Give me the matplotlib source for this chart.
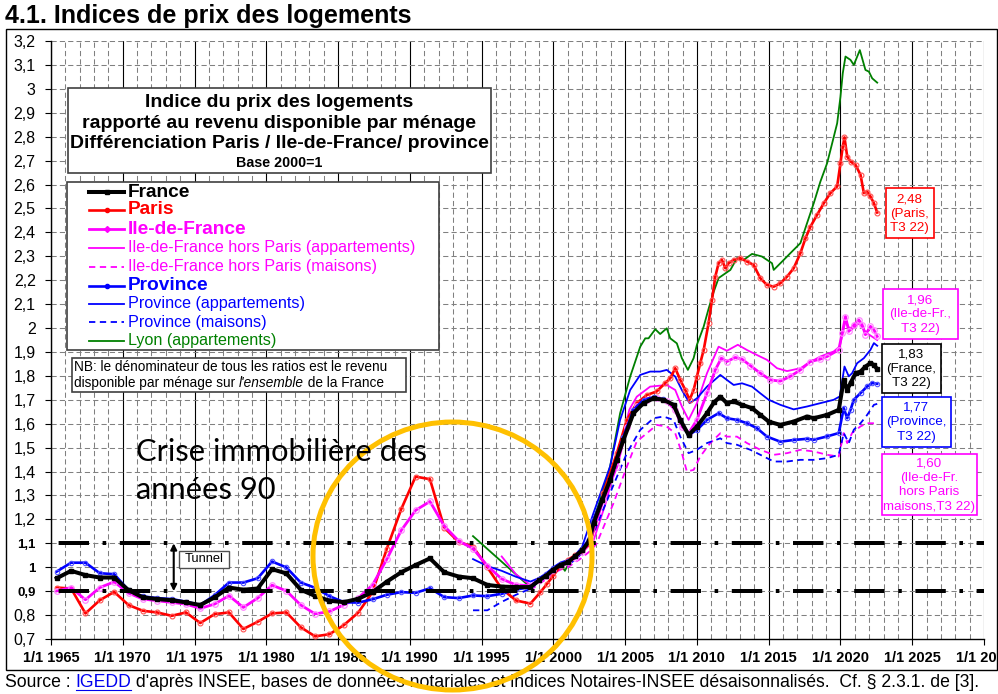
import matplotlib
matplotlib.use('Agg')
import matplotlib.pyplot as plt
from matplotlib.patches import Rectangle, Ellipse
from matplotlib.lines import Line2D

plt.rcParams['font.family'] = ['Liberation Sans', 'DejaVu Sans']

# ---------------- DATA ----------------
france_x = [1965.4, 1966.4, 1967.4, 1968.4, 1969.4, 1970.4, 1971.4, 1972.4, 1973.4, 1974.4,
            1975.4, 1976.4, 1977.4, 1978.4, 1979.4, 1980.4, 1981.4, 1982.4, 1983.4, 1984.4,
            1985.4, 1986.4, 1987.4, 1988.4, 1989.4, 1990.4, 1991.4, 1992.4, 1993.4, 1994.4,
            1995.4, 1996.4, 1997.4, 1998.4, 1999.0, 1999.5, 2000.0, 2000.5, 2001.0, 2001.5,
            2002.0, 2002.5, 2002.8, 2003.4, 2003.95, 2004.4, 2004.88, 2005.58, 2006.28, 2006.98,
            2007.67, 2008.37, 2008.84, 2009.42, 2010.0, 2010.7, 2011.2, 2011.63, 2012.09, 2012.56,
            2013.14, 2013.84, 2014.42, 2015.0, 2015.81, 2016.74, 2017.67, 2018.14, 2019.07, 2019.88,
            2020.23, 2020.47, 2020.7, 2021.05, 2021.4, 2021.74, 2022.09, 2022.33, 2022.56]
france_y = [0.954, 0.985, 0.967, 0.957, 0.957, 0.904, 0.874, 0.867, 0.862, 0.853,
            0.842, 0.874, 0.915, 0.906, 0.911, 0.992, 0.974, 0.906, 0.880, 0.860,
            0.854, 0.868, 0.896, 0.940, 0.979, 1.009, 1.037, 0.979, 0.961, 0.954,
            0.926, 0.919, 0.917, 0.917, 0.945, 0.965, 0.990, 1.010, 1.020, 1.045,
            1.070, 1.110, 1.184, 1.280, 1.365, 1.450, 1.532, 1.644, 1.686, 1.706,
            1.700, 1.679, 1.616, 1.553, 1.588, 1.644, 1.690, 1.713, 1.686, 1.693,
            1.679, 1.665, 1.637, 1.609, 1.595, 1.609, 1.630, 1.623, 1.637, 1.658,
            1.783, 1.742, 1.770, 1.811, 1.818, 1.839, 1.853, 1.846, 1.828]

paris_x = [1965.4, 1966.4, 1967.4, 1968.4, 1969.4, 1970.4, 1971.4, 1972.4, 1973.4, 1974.4,
           1975.4, 1976.4, 1977.4, 1978.4, 1979.4, 1980.4, 1981.4, 1982.4, 1983.4, 1984.4,
           1985.4, 1986.4, 1987.4, 1988.4, 1989.4, 1990.4, 1991.4, 1992.4, 1993.4, 1994.4,
           1995.4, 1996.4, 1997.4, 1998.4, 1999.1, 1999.55, 2000.0, 2000.5, 2001.0, 2001.5,
           2002.0, 2002.56, 2003.49, 2004.42, 2005.12, 2005.81, 2006.51, 2007.2, 2007.79, 2008.14,
           2008.49, 2008.84, 2009.19, 2009.49, 2009.77, 2010.0, 2010.23, 2010.47, 2010.81, 2011.05,
           2011.28, 2011.51, 2011.74, 2011.98, 2012.21, 2012.56, 2013.02, 2013.49, 2013.95, 2014.42,
           2014.88, 2015.35, 2015.81, 2016.28, 2016.74, 2017.21, 2017.56, 2017.91, 2018.37, 2018.84,
           2019.3, 2019.77, 2020.0, 2020.16, 2020.28, 2020.47, 2020.7, 2021.05, 2021.4, 2021.63,
           2021.86, 2022.09, 2022.33, 2022.56]
paris_y = [0.915, 0.911, 0.807, 0.862, 0.897, 0.842, 0.818, 0.811, 0.797, 0.811,
           0.767, 0.804, 0.811, 0.742, 0.772, 0.807, 0.811, 0.749, 0.711, 0.720,
           0.758, 0.810, 0.896, 1.078, 1.243, 1.379, 1.368, 1.165, 1.106, 1.086,
           1.000, 0.910, 0.861, 0.848, 0.896, 0.930, 0.965, 1.007, 1.030, 1.050,
           1.070, 1.100, 1.310, 1.477, 1.616, 1.686, 1.720, 1.735, 1.770, 1.790,
           1.832, 1.783, 1.741, 1.700, 1.741, 1.797, 1.853, 1.908, 2.020, 2.118,
           2.215, 2.271, 2.285, 2.250, 2.271, 2.285, 2.292, 2.278, 2.264, 2.208,
           2.180, 2.173, 2.187, 2.215, 2.250, 2.313, 2.375, 2.424, 2.473, 2.522,
           2.564, 2.592, 2.689, 2.758, 2.797, 2.717, 2.696, 2.682, 2.640, 2.564,
           2.570, 2.550, 2.522, 2.483]

idf_x = [1965.4, 1966.4, 1967.4, 1968.4, 1969.4, 1970.4, 1971.4, 1972.4, 1973.4, 1974.4,
         1975.4, 1976.4, 1977.4, 1978.4, 1979.4, 1980.4, 1981.4, 1982.4, 1983.4, 1984.4,
         1985.4, 1986.4, 1987.4, 1988.4, 1989.4, 1990.4, 1991.4, 1992.4, 1993.4, 1994.4,
         1995.4, 1996.4, 1997.4, 1998.4, 1999.0, 1999.5, 2000.0, 2000.5, 2001.0, 2001.5,
         2002.0, 2002.56, 2003.49, 2004.42, 2005.12, 2005.81, 2006.51, 2007.2, 2007.9, 2008.49,
         2008.95, 2009.42, 2010.0, 2010.7, 2011.28, 2011.7, 2012.09, 2012.67, 2013.14, 2013.72,
         2014.42, 2015.12, 2015.81, 2016.51, 2017.21, 2017.9, 2018.6, 2019.07, 2019.88, 2020.12,
         2020.35, 2020.58, 2020.93, 2021.28, 2021.51, 2021.74, 2022.09, 2022.33, 2022.56]
idf_y = [0.901, 0.915, 0.864, 0.915, 0.939, 0.892, 0.867, 0.860, 0.853, 0.846,
         0.828, 0.846, 0.881, 0.832, 0.871, 0.925, 0.901, 0.842, 0.805, 0.815,
         0.843, 0.871, 0.926, 1.034, 1.154, 1.238, 1.275, 1.172, 1.110, 1.078,
         1.006, 0.951, 0.926, 0.923, 0.945, 0.965, 0.990, 1.010, 1.020, 1.040,
         1.065, 1.115, 1.282, 1.421, 1.588, 1.672, 1.700, 1.706, 1.693, 1.658,
         1.588, 1.560, 1.616, 1.727, 1.825, 1.874, 1.860, 1.877, 1.870, 1.843,
         1.811, 1.783, 1.778, 1.798, 1.825, 1.860, 1.870, 1.881, 1.909, 1.979,
         2.048, 1.986, 2.013, 2.034, 2.013, 1.972, 2.007, 1.993, 1.965]

prov_x = [1965.4, 1966.4, 1967.4, 1968.4, 1969.4, 1970.4, 1971.4, 1972.4, 1973.4, 1974.4,
          1975.4, 1976.4, 1977.4, 1978.4, 1979.4, 1980.4, 1981.4, 1982.4, 1983.4, 1984.4,
          1985.4, 1986.4, 1987.4, 1988.4, 1989.4, 1990.4, 1991.4, 1992.4, 1993.4, 1994.4,
          1995.4, 1996.4, 1997.4, 1998.4, 1999.0, 1999.5, 2000.0, 2000.5, 2001.0, 2001.5,
          2002.0, 2002.5, 2002.79, 2003.95, 2004.88, 2005.58, 2006.28, 2006.98, 2007.67, 2008.37,
          2008.84, 2009.42, 2010.0, 2010.7, 2011.51, 2012.09, 2012.79, 2013.49, 2014.19, 2014.88,
          2015.81, 2016.74, 2017.67, 2018.14, 2019.07, 2019.88, 2020.23, 2020.47, 2020.7, 2020.93,
          2021.4, 2021.86, 2022.21, 2022.56]
prov_y = [0.982, 1.019, 1.019, 0.975, 0.971, 0.904, 0.878, 0.871, 0.867, 0.856,
          0.842, 0.883, 0.936, 0.936, 0.954, 1.024, 0.999, 0.936, 0.914, 0.879,
          0.854, 0.852, 0.866, 0.885, 0.896, 0.893, 0.912, 0.875, 0.871, 0.882,
          0.879, 0.889, 0.907, 0.917, 0.950, 0.970, 0.995, 1.015, 1.025, 1.045,
          1.075, 1.120, 1.198, 1.365, 1.546, 1.658, 1.700, 1.711, 1.702, 1.679,
          1.616, 1.553, 1.574, 1.616, 1.644, 1.623, 1.616, 1.602, 1.581, 1.546,
          1.525, 1.532, 1.537, 1.533, 1.547, 1.561, 1.665, 1.623, 1.658, 1.700,
          1.728, 1.756, 1.770, 1.767]

idf_hp_app_x = [1996.4, 1997.4, 1998.4, 1999.0, 1999.5, 2000.0, 2000.5, 2001.0, 2001.5, 2002.0,
                2002.79, 2003.72, 2004.6, 2005.3, 2005.81, 2006.74, 2007.9, 2008.49, 2008.95, 2009.42,
                2010.0, 2010.7, 2011.51, 2012.09, 2012.85, 2013.49, 2014.19, 2014.88, 2015.58, 2016.28,
                2017.21, 2017.9, 2018.6, 2019.53, 2019.95, 2020.35, 2020.7, 2021.3, 2021.8, 2022.56]
idf_hp_app_y = [1.045, 0.970, 0.926, 0.950, 0.960, 0.985, 1.000, 1.015, 1.035, 1.060,
                1.110, 1.282, 1.500, 1.660, 1.713, 1.755, 1.762, 1.741, 1.672, 1.616,
                1.686, 1.811, 1.922, 1.905, 1.930, 1.908, 1.887, 1.867, 1.832, 1.820,
                1.832, 1.858, 1.881, 1.902, 1.923, 2.030, 1.990, 2.020, 1.980, 1.950]

idf_hp_mai_x = [1998.4, 1999.0, 1999.5, 2000.0, 2000.5, 2001.0, 2001.5, 2002.0, 2002.6, 2003.02,
                2004.19, 2005.12, 2005.81, 2006.51, 2007.2, 2007.9, 2008.49, 2008.95, 2009.3, 2009.77,
                2010.23, 2010.93, 2011.63, 2012.09, 2012.79, 2013.49, 2014.42, 2015.35, 2016.28, 2017.21,
                2018.14, 2019.07, 2019.88, 2020.23, 2020.47, 2020.81, 2021.4, 2021.86, 2022.33, 2022.56]
idf_hp_mai_y = [0.905, 0.930, 0.950, 0.975, 0.990, 1.000, 1.020, 1.040, 1.070, 1.100,
                1.268, 1.421, 1.526, 1.560, 1.595, 1.588, 1.560, 1.477, 1.400, 1.407,
                1.463, 1.519, 1.560, 1.546, 1.546, 1.519, 1.491, 1.470, 1.477, 1.491,
                1.484, 1.470, 1.463, 1.561, 1.519, 1.561, 1.589, 1.602, 1.602, 1.595]

prov_app_x = [1994.4, 1995.4, 1996.4, 1997.4, 1998.4, 1999.0, 1999.5, 2000.0, 2000.5, 2001.0,
              2001.5, 2002.0, 2002.79, 2003.95, 2004.65, 2005.35, 2006.05, 2006.74, 2007.44, 2007.9,
              2008.49, 2008.95, 2009.49, 2010.0, 2010.7, 2011.63, 2012.09, 2012.56, 2013.14, 2013.84,
              2014.42, 2015.0, 2015.81, 2016.74, 2017.67, 2018.6, 2019.53, 2019.95, 2020.28, 2020.58,
              2020.81, 2021.16, 2021.63, 2022.09, 2022.33, 2022.56]
prov_app_y = [1.034, 1.005, 0.985, 0.960, 0.940, 0.955, 0.975, 1.000, 1.020, 1.030,
              1.050, 1.085, 1.226, 1.421, 1.616, 1.741, 1.804, 1.818, 1.818, 1.825,
              1.797, 1.741, 1.686, 1.706, 1.755, 1.804, 1.783, 1.762, 1.769, 1.755,
              1.727, 1.700, 1.679, 1.660, 1.672, 1.686, 1.700, 1.714, 1.839, 1.798,
              1.811, 1.853, 1.874, 1.909, 1.937, 1.926]

prov_mai_x = [1994.4, 1995.4, 1996.4, 1997.4, 1998.4, 1999.0, 1999.5, 2000.0, 2000.5, 2001.0,
              2001.5, 2002.0, 2002.79, 2003.95, 2005.12, 2006.05, 2006.98, 2007.67, 2008.37, 2008.84,
              2009.42, 2010.0, 2010.7, 2011.63, 2012.09, 2012.79, 2013.72, 2014.42, 2015.35, 2016.28,
              2017.21, 2018.14, 2019.07, 2019.88, 2020.23, 2020.58, 2020.93, 2021.4, 2021.86, 2022.33,
              2022.56]
prov_mai_y = [0.820, 0.820, 0.855, 0.885, 0.910, 0.940, 0.960, 0.985, 1.000, 1.010,
              1.030, 1.060, 1.142, 1.310, 1.477, 1.574, 1.623, 1.630, 1.616, 1.546,
              1.477, 1.491, 1.519, 1.539, 1.519, 1.512, 1.491, 1.470, 1.442, 1.442,
              1.449, 1.449, 1.456, 1.470, 1.561, 1.519, 1.575, 1.602, 1.637, 1.679,
              1.683]

lyon_x = [1994.4, 1998.4, 1999.0, 1999.5, 2000.0, 2000.5, 2000.8, 2001.2, 2001.7, 2002.1,
          2002.4, 2002.79, 2003.26, 2003.95, 2004.65, 2005.35, 2006.05, 2006.4, 2006.63, 2007.1,
          2007.44, 2007.9, 2008.14, 2008.6, 2008.95, 2009.37, 2009.77, 2010.0, 2010.47, 2010.81,
          2011.16, 2011.51, 2012.33, 2012.79, 2013.26, 2013.84, 2014.53, 2015.23, 2015.35, 2016.05,
          2016.51, 2017.21, 2017.67, 2018.14, 2018.6, 2019.07, 2019.42, 2019.77, 2020.0, 2020.16,
          2020.35, 2020.7, 2020.93, 2021.35, 2021.74, 2021.98, 2022.21, 2022.56]
lyon_y = [1.130, 0.916, 0.950, 0.970, 0.995, 1.015, 0.985, 1.030, 1.050, 1.070,
          1.100, 1.198, 1.282, 1.421, 1.644, 1.797, 1.922, 1.957, 1.957, 1.995,
          1.975, 1.999, 1.957, 1.936, 1.874, 1.825, 1.874, 1.930, 2.006, 2.080,
          2.150, 2.209, 2.243, 2.292, 2.285, 2.310, 2.299, 2.271, 2.243, 2.285,
          2.313, 2.355, 2.438, 2.522, 2.612, 2.689, 2.772, 2.856, 2.967, 3.065,
          3.135, 3.121, 3.100, 3.162, 3.079, 3.072, 3.044, 3.026]

tunnel_levels = [1.1, 0.9]
x_years = list(range(1965, 2031, 5))
x_labels = ['1/1 %d' % y for y in x_years]
y_ticks = [round(0.7 + 0.1 * i, 1) for i in range(26)]
y_labels = [('%g' % v).replace('.', ',') for v in y_ticks]

end_labels = [('2,48\n(Paris,\nT3 22)', '#FF0000'),
              ('1,96\n(Ile-de-Fr.,\nT3 22)', '#FF00FF'),
              ('1,83\n(France,\nT3 22)', '#000000'),
              ('1,77\n(Province,\nT3 22)', '#0000FF'),
              ('1,60\n(Ile-de-Fr.\nhors Paris\nmaisons,T3 22)', '#FF00FF')]

# ---------------- FIGURE ----------------
W, H = 998, 694
fig = plt.figure(figsize=(W / 100, H / 100), dpi=100)
ax = fig.add_axes([51 / W, 1 - 639 / H, (984 - 51) / W, (639 - 41) / H])
ax.set_xlim(1965, 2030)
ax.set_ylim(0.7, 3.2)

RED, MAG, BLUE, GREEN = '#FF0000', '#FF00FF', '#0000FF', '#008000'

# grid
ax.set_xticks(x_years)
ax.set_xticks(range(1965, 2031), minor=True)
ax.set_yticks(y_ticks)
ax.set_xticklabels(x_labels, fontsize=10.5, fontweight='bold')
ax.set_yticklabels(y_labels, fontsize=11.5)
for lab in ax.get_yticklabels():
    if lab.get_text() in ('1,1', '1', '0,9'):
        lab.set_fontweight('bold')
        lab.set_fontsize(9.5)
ax.grid(which='major', axis='x', color='black', lw=0.8, ls='-', zorder=0)
ax.grid(which='minor', axis='x', color='#808080', lw=0.75, ls=(0, (5, 3)), zorder=0)
ax.grid(which='major', axis='y', color='#808080', lw=0.75, ls=(0, (5, 3)), zorder=0)
ax.set_axisbelow(True)
ax.tick_params(axis='x', which='major', length=4, width=0.8, pad=4.5)
ax.tick_params(axis='x', which='minor', length=0)
ax.tick_params(axis='y', length=4, width=0.8, pad=7)
for s in ('top', 'right'):
    ax.spines[s].set_visible(False)
for s in ('left', 'bottom'):
    ax.spines[s].set_linewidth(1.0)

# series
ax.plot(lyon_x, lyon_y, color=GREEN, lw=1.3, zorder=3)
ax.plot(idf_hp_app_x, idf_hp_app_y, color=MAG, lw=1.3, zorder=3)
ax.plot(idf_hp_mai_x, idf_hp_mai_y, color=MAG, lw=1.3, ls=(0, (3.5, 2.5)), zorder=3)
ax.plot(prov_app_x, prov_app_y, color=BLUE, lw=1.3, zorder=3)
ax.plot(prov_mai_x, prov_mai_y, color=BLUE, lw=1.3, ls=(0, (3.5, 2.5)), zorder=3)
ax.plot(paris_x, paris_y, color=RED, lw=1.9, marker='o', ms=3.5, mfc='none',
        mec='#FF5050', mew=0.8, zorder=4)
ax.plot(idf_x, idf_y, color=MAG, lw=2.0, marker='o', ms=4, mfc='none',
        mec='#FF88FF', mew=0.9, zorder=4)
ax.plot(prov_x, prov_y, color=BLUE, lw=1.9, marker='o', ms=3.2, mfc='none',
        mec='#5050FF', mew=0.8, zorder=4)
ax.plot(france_x, france_y, color='black', lw=2.9, marker='s', ms=3, zorder=5)

# tunnel lines
for lv in tunnel_levels:
    ax.axhline(lv, color='black', lw=2.88, ls=(13.4, (7.6, 3.4, 0.9, 3.4)),
               solid_capstyle='butt', dash_capstyle='butt', zorder=6)

# ---------------- HELPERS ----------------
def ftext(x, y, s, **kw):
    kw.setdefault('zorder', 20)
    return fig.text(x / W, 1 - y / H, s, **kw)

def fbox(x0, y0, x1, y1, ec, lw=1.2, fc='white', z=15):
    r = Rectangle((x0 / W, 1 - y1 / H), (x1 - x0) / W, (y1 - y0) / H,
                  transform=fig.transFigure, fc=fc, ec=ec, lw=lw, zorder=z)
    fig.add_artist(r)

def fline(x0, x1, y, z=18, **kw):
    fig.add_artist(Line2D([x0 / W, x1 / W], [1 - y / H, 1 - y / H],
                          transform=fig.transFigure, zorder=z, **kw))

# title
ftext(5, 22.7, '4.1. Indices de prix des logements', fontsize=18,
      fontweight='bold', va='baseline', ha='left')

# chart border
fig.add_artist(Rectangle((6 / W, 1 - 670 / H), (997 - 6) / W, (670 - 29) / H,
                         transform=fig.transFigure, fill=False, ec='black', lw=1.0, zorder=1))

# title box
fbox(67.7, 87.7, 491, 173, '#404040')
cx = (67.7 + 491) / 2
ftext(cx, 102.7, 'Indice du prix des logements', fontsize=14, fontweight='bold', ha='center', va='center')
ftext(cx, 123.3, 'rapporté au revenu disponible par ménage', fontsize=14, fontweight='bold', ha='center', va='center')
ftext(cx, 144, 'Différenciation Paris / Ile-de-France/ province', fontsize=14, fontweight='bold', ha='center', va='center')
ftext(cx, 163.3, 'Base 2000=1', fontsize=10.3, fontweight='bold', ha='center', va='center')

# legend box
fbox(66.7, 182, 439, 350, '#404040')
legend_entries = [
    ('France', 'black', 2.9, '-', 's', True),
    ('Paris', RED, 1.9, '-', 'o', True),
    ('Ile-de-France', MAG, 2.0, '-', 'D', True),
    ('Ile-de-France hors Paris (appartements)', MAG, 1.3, '-', None, False),
    ('Ile-de-France hors Paris (maisons)', MAG, 1.3, (0, (3.5, 2.5)), None, False),
    ('Province', BLUE, 1.9, '-', 'o', True),
    ('Province (appartements)', BLUE, 1.3, '-', None, False),
    ('Province (maisons)', BLUE, 1.3, (0, (3.5, 2.5)), None, False),
    ('Lyon (appartements)', GREEN, 1.3, '-', None, False),
]
leg_y = [192.3, 210, 229.3, 247.7, 266.7, 285.7, 303.7, 322.3, 340.7]
for (lab, col, lw, ls, mk, bold), yy in zip(legend_entries, leg_y):
    fline(89, 124, yy, color=col, lw=lw, ls=ls)
    if mk:
        fig.add_artist(Line2D([106.5 / W], [1 - yy / H], transform=fig.transFigure,
                              marker=mk, ms=3, color=col, zorder=19))
    if bold:
        ftext(128, yy, lab, color=col, fontsize=13.8, fontweight='bold', va='center')
    else:
        ftext(128, yy, lab, color=col, fontsize=11.6, va='center')

# NB box
fbox(71.7, 357.7, 405.7, 391.7, '#404040')
ftext(74, 366.7, 'NB: le dénominateur de tous les ratios est le revenu', fontsize=9.8, va='center')
renderer = fig.canvas.get_renderer()
t1 = ftext(74, 382.7, 'disponible par ménage sur ', fontsize=9.8, va='center')
bb = t1.get_window_extent(renderer)
t2 = ftext(bb.x1, 382.7, "l'ensemble", fontsize=9.8, style='italic', va='center')
bb2 = t2.get_window_extent(renderer)
ftext(bb2.x1, 382.7, ' de la France', fontsize=9.8, va='center')

# tunnel arrow and label
ax.annotate('', xy=(1973.55, tunnel_levels[1]), xytext=(1973.55, tunnel_levels[0]),
            arrowprops=dict(arrowstyle='<|-|>', lw=1.5, color='black', shrinkA=0, shrinkB=0,
                            mutation_scale=9), zorder=7)
fbox(179, 551, 229.3, 567.7, '#505050', lw=1.0)
ftext(204, 559.5, 'Tunnel', fontsize=9.3, ha='center', va='center')

# right-side end labels
boxes = [(885.7, 188, 934, 238), (882.7, 289, 958, 339), (881.7, 344, 940.7, 393),
         (881.7, 396.7, 951, 446.7), (881.7, 454, 976.7, 515)]
for (txt, col), (x0, y0, x1, y1) in zip(end_labels, boxes):
    fbox(x0, y0, x1, y1, col, lw=1.2)
    ftext((x0 + x1) / 2, (y0 + y1) / 2 + 0.5, txt, color=col, fontsize=9.6, ha='center',
          va='center', linespacing=1.26, multialignment='center')

# source line
ys = 687
s1 = ftext(5, ys, 'Source : ', fontsize=12.7, va='baseline')
b = s1.get_window_extent(renderer)
s2 = ftext(b.x1, ys, 'IGEDD', fontsize=12.7, va='baseline', color='#0000EE')
b2 = s2.get_window_extent(renderer)
fig.add_artist(Line2D([b2.x0 / W, b2.x1 / W], [1 - 690 / H, 1 - 690 / H],
                      transform=fig.transFigure, color='#0000EE', lw=0.8, zorder=20))
ftext(b2.x1, ys, " d'après INSEE, bases de données notariales et indices Notaires-INSEE "
      "désaisonnalisés.  Cf. § 2.3.1. de [3].", fontsize=12.7, va='baseline')

# orange circle
fig.add_artist(Ellipse((452.5 / W, 1 - 556 / H), 279 / W, 268 / H, transform=fig.transFigure,
                       fill=False, ec='#FFC000', lw=3.6, zorder=25))

# crisis text
ftext(136, 461, 'Crise immobilière des', fontsize=22.2, family=['Lato', 'DejaVu Sans'],
      va='baseline', zorder=30)
ftext(136, 499, 'années 90', fontsize=22.2, family=['Lato', 'DejaVu Sans'],
      va='baseline', zorder=30)

fig.savefig('out.png', dpi=100)
